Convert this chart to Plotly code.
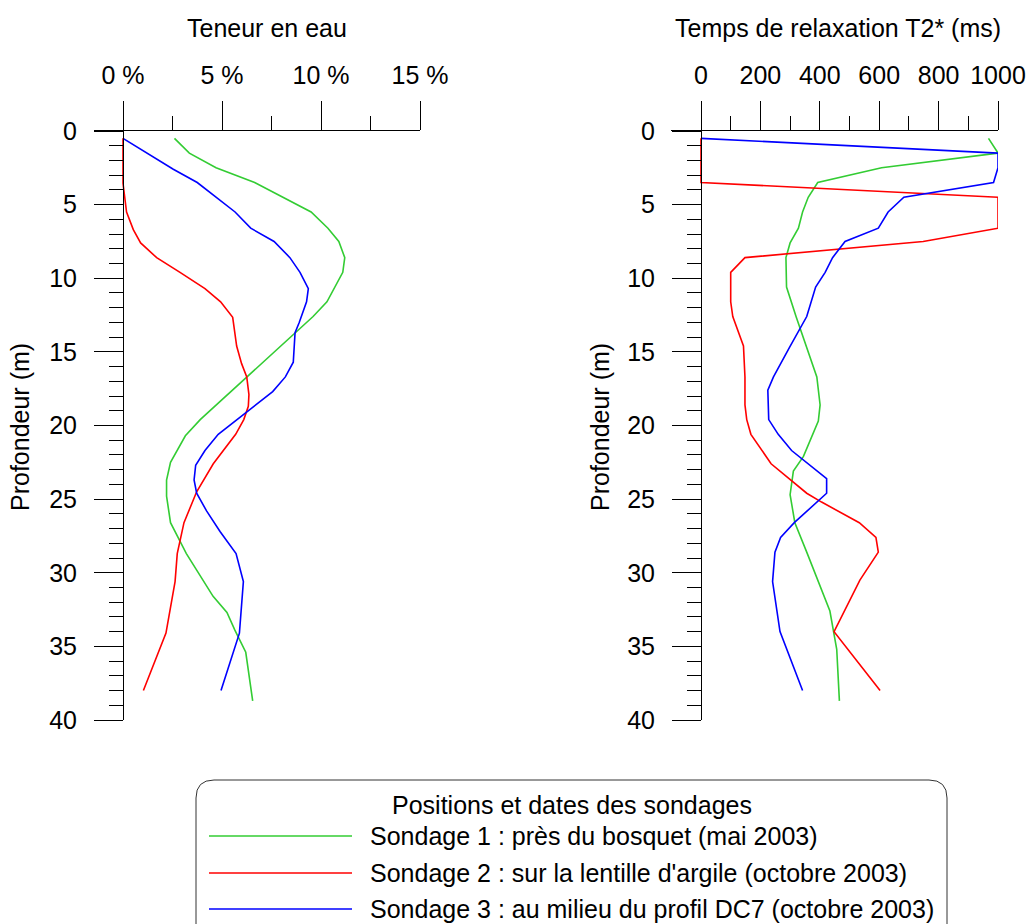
import plotly.graph_objects as go

W, H = 1029, 924

# ---------------- data ----------------
series_names = [
    "Sondage 1 : près du bosquet (mai 2003)",
    "Sondage 2 : sur la lentille d'argile (octobre 2003)",
    "Sondage 3 : au milieu du profil DC7 (octobre 2003)",
]
series_colors = ["#33CC33", "#FF0000", "#0000FF"]

# Sondage 1 - water content (%)
s1_water_depth = [0.5, 1.5, 2.5, 3.5, 5.5, 6.6, 7.5, 8.6, 9.6, 11.6, 12.6, 19.6, 20.7, 22.5,
                  23.7, 24.8, 26.6, 28.7, 31.6, 32.7, 33.9, 35.4, 38.7]
s1_water = [2.6, 3.35, 4.7, 6.65, 9.5, 10.35, 10.9, 11.2, 11.1, 10.3, 9.6, 3.9, 3.15, 2.4,
            2.2, 2.2, 2.4, 3.2, 4.55, 5.25, 5.65, 6.2, 6.55]
# Sondage 2 - water content (%)
s2_water_depth = [0.5, 3.55, 5.5, 6.7, 7.6, 8.6, 9.6, 10.7, 11.6, 12.65, 14.6, 15.8, 16.7, 17.9,
                  18.7, 19.6, 20.6, 22.6, 24.5, 26.6, 28.7, 30.6, 34.1, 38.0]
s2_water = [0, 0, 0.18, 0.52, 0.89, 1.7, 2.88, 4.14, 4.93, 5.54, 5.74, 5.99, 6.25, 6.36,
            6.33, 6.1, 5.69, 4.56, 3.72, 3.08, 2.74, 2.63, 2.17, 1.03]
# Sondage 3 - water content (%)
s3_water_depth = [0.5, 1.5, 2.6, 3.5, 4.5, 5.5, 6.6, 7.5, 8.6, 9.6, 10.7, 11.6, 13.0, 13.7,
                  15.7, 16.7, 17.7, 20.6, 21.7, 22.7, 23.7, 24.6, 25.8, 27.2, 28.7, 30.6, 34.1, 38.0]
s3_water = [0, 1.19, 2.54, 3.75, 4.73, 5.66, 6.45, 7.63, 8.43, 8.94, 9.36, 9.27, 8.9, 8.69,
            8.6, 8.2, 7.56, 4.81, 4.14, 3.67, 3.59, 3.72, 4.22, 4.9, 5.71, 6.08, 5.88, 4.95]

# Sondage 1 - T2* (ms)
s1_t2_depth = [0.5, 1.5, 2.5, 3.5, 4.5, 5.5, 6.6, 7.6, 8.6, 10.6, 12.6, 16.7, 18.6, 19.7, 22.1,
               23.1, 24.7, 26.6, 28.6, 32.6, 35.2, 38.7]
s1_t2 = [968, 1000, 608, 393, 361, 342, 328, 300, 286, 288, 320, 390, 401, 395, 345,
         311, 300, 316, 356, 434, 457, 466]
# Sondage 2 - T2* (ms)
s2_t2_depth = [0.5, 3.5, 4.5, 6.6, 7.5, 8.6, 9.6, 11.6, 12.6, 14.6, 16.7, 18.6, 19.6, 20.6, 22.6,
               23.7, 24.6, 25.2, 26.6, 27.6, 28.6, 30.5, 34.0, 38.0]
s2_t2 = [0, 0, 1000, 1000, 748, 148, 100, 100, 107, 143, 148, 148, 154, 168, 236,
         300, 356, 406, 533, 589, 597, 535, 448, 603]
# Sondage 3 - T2* (ms)
s3_t2_depth = [0.5, 1.5, 2.5, 3.5, 4.5, 5.5, 6.6, 7.5, 8.6, 9.6, 10.6, 12.6, 14.7, 16.7, 17.6,
               19.6, 20.6, 21.7, 23.6, 24.6, 26.6, 27.6, 28.6, 30.6, 34.0, 38.0]
s3_t2 = [0, 1000, 1000, 985, 683, 630, 597, 485, 443, 418, 386, 356, 298, 244, 225,
         228, 260, 305, 423, 423, 314, 268, 249, 241, 266, 342]

water_tickvals = [0, 5, 10, 15]
water_ticktext = ["0 %", "5 %", "10 %", "15 %"]
water_minor = [2.5, 7.5, 12.5]
t2_tickvals = [0, 200, 400, 600, 800, 1000]
t2_ticktext = ["0", "200", "400", "600", "800", "1000"]
t2_minor = [100, 300, 500, 700, 900]
depth_tickvals = [0, 5, 10, 15, 20, 25, 30, 35, 40]

title_water = "Teneur en eau"
title_t2 = "Temps de relaxation T2* (ms)"
title_depth = "Profondeur (m)"
legend_title = "Positions et dates des sondages"

FONT = "Liberation Sans, Arial, sans-serif"
FS = 25

def px(x):
    return x / W

def py(y):
    return 1 - y / H

fig = go.Figure()

water_sets = [(s1_water, s1_water_depth), (s2_water, s2_water_depth), (s3_water, s3_water_depth)]
t2_sets = [(s1_t2, s1_t2_depth), (s2_t2, s2_t2_depth), (s3_t2, s3_t2_depth)]

for (xv, dv), name, col in zip(water_sets, series_names, series_colors):
    fig.add_trace(go.Scatter(x=xv, y=dv, mode="lines", name=name, showlegend=False,
                             line=dict(color=col, width=1.6), xaxis="x", yaxis="y"))
for (xv, dv), name, col in zip(t2_sets, series_names, series_colors):
    fig.add_trace(go.Scatter(x=xv, y=dv, mode="lines", name=name, showlegend=False,
                             line=dict(color=col, width=1.6), xaxis="x2", yaxis="y2"))

common_x = dict(side="top", showline=True, linecolor="black", linewidth=1, ticks="outside",
                ticklen=29, tickcolor="black", tickwidth=1, showgrid=False, zeroline=False,
                ticklabelstandoff=7, tickfont=dict(family=FONT, size=FS, color="black"),
                fixedrange=True, automargin=False)
common_y = dict(showline=True, linecolor="black", linewidth=1, ticks="outside", ticklen=29,
                tickcolor="black", tickwidth=1, showgrid=False, zeroline=False,
                range=[40, 0], tickvals=depth_tickvals,
                minor=dict(dtick=1, ticklen=14, ticks="outside", tickcolor="black", showgrid=False),
                ticklabelstandoff=12, tickfont=dict(family=FONT, size=FS, color="black"),
                domain=[py(720), py(131)], anchor="free", fixedrange=True, automargin=False)

# left panel: 0% at px 123, 15% at px 420
lx0 = 15 * (94 - 123) / (420 - 123)
fig.update_layout(
    xaxis=dict(domain=[px(94), px(420)], range=[lx0, 15], anchor="y",
               tickvals=water_tickvals, ticktext=water_ticktext,
               minor=dict(tickvals=water_minor, ticklen=14, ticks="outside", tickcolor="black",
                          showgrid=False), **common_x),
    yaxis=dict(position=px(123), **common_y),
)
rx0 = 1000 * (671 - 701) / (998 - 701)
fig.update_layout(
    xaxis2=dict(domain=[px(671), px(998)], range=[rx0, 1000], anchor="y2",
                tickvals=t2_tickvals, ticktext=t2_ticktext,
                minor=dict(tickvals=t2_minor, ticklen=14, ticks="outside", tickcolor="black",
                           showgrid=False), **common_x),
    yaxis2=dict(position=px(701), **common_y),
)

def text_ann(text, x, y, xanchor="center", angle=0):
    return dict(text=text, x=px(x), y=py(y), xref="paper", yref="paper",
                xanchor=xanchor, yanchor="middle", showarrow=False, textangle=angle,
                font=dict(family=FONT, size=FS, color="black"))

ann = [text_ann(title_water, 267, 28), text_ann(title_t2, 838, 28)]
for xc in (20, 600):
    ann.append(text_ann(title_depth, xc, 427, angle=-90))

# legend (drawn manually to reproduce long line samples and rounded box)
bx0, bx1, by0, by1, r = 196, 947, 780, 960, 18
path = (f"M {px(bx0)},{py(by1)} L {px(bx0)},{py(by0 + r)} "
        f"Q {px(bx0)},{py(by0)} {px(bx0 + r)},{py(by0)} "
        f"L {px(bx1 - r)},{py(by0)} "
        f"Q {px(bx1)},{py(by0)} {px(bx1)},{py(by0 + r)} "
        f"L {px(bx1)},{py(by1)}")
shapes = [dict(type="path", path=path, xref="paper", yref="paper",
               line=dict(color="#333333", width=1))]
ann.append(text_ann(legend_title, 572, 805))
item_y = [836, 873, 909]
for name, col, yy in zip(series_names, series_colors, item_y):
    shapes.append(dict(type="line", xref="paper", yref="paper", x0=px(209), x1=px(352),
                       y0=py(yy), y1=py(yy), line=dict(color=col, width=1.6)))
    ann.append(text_ann(name, 368, yy, xanchor="left"))

fig.update_layout(template="none", width=W, height=H, margin=dict(l=0, r=0, t=0, b=0, pad=0),
                  autosize=False,
                  paper_bgcolor="white", plot_bgcolor="white",
                  annotations=ann, shapes=shapes, showlegend=False,
                  font=dict(family=FONT, size=FS, color="black"))

fig.write_html("out.html", config={"displayModeBar": False})
